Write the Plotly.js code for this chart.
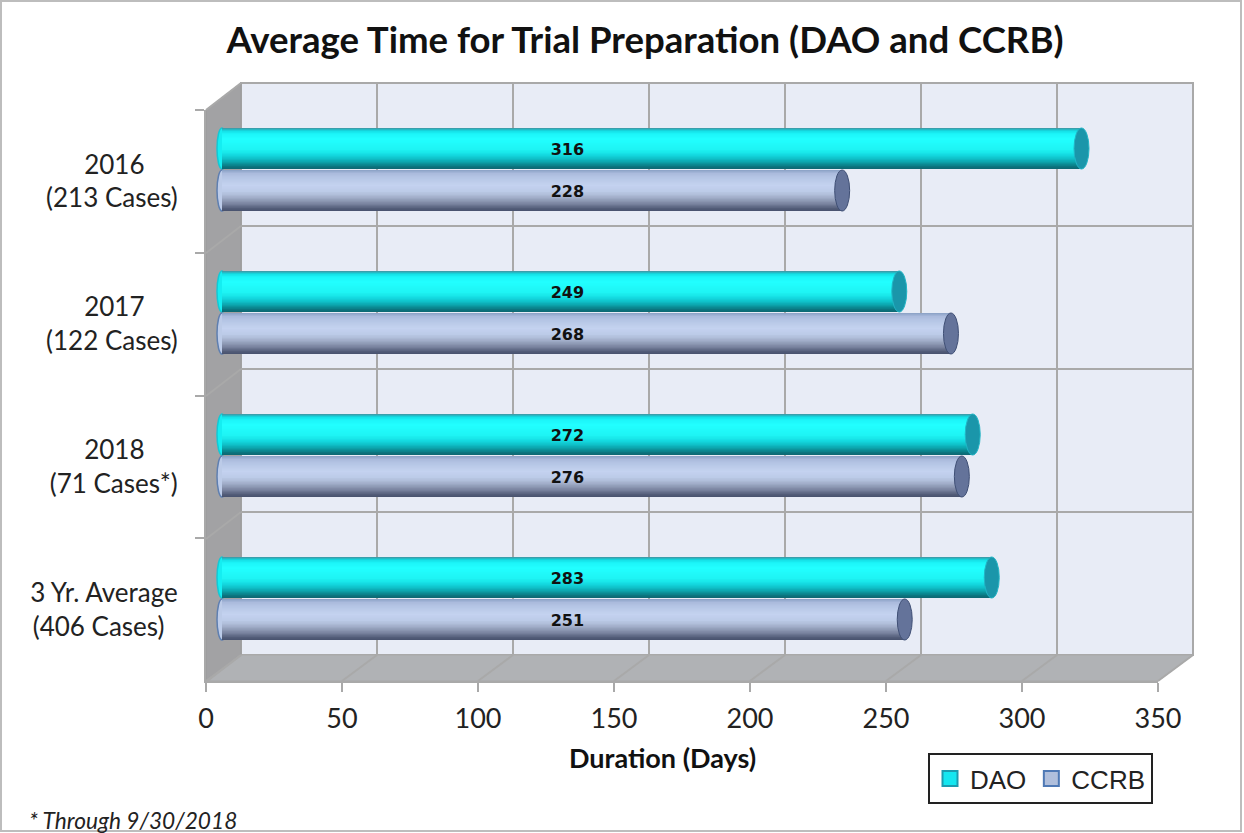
<!DOCTYPE html>
<html>
<head>
<meta charset="utf-8">
<script src="https://cdn.plot.ly/plotly-3.0.1.min.js"></script>
<style>html,body{margin:0;padding:0;background:#fff}#chart{width:1244px;height:833px}</style>
</head>
<body>
<div id="chart"></div>
<script>
// ---- data ----
const categories = [
  '2016' + '\u00a0'.repeat(5) + '<br>(213 Cases)',
  '2017' + '\u00a0'.repeat(5) + '<br>(122 Cases)',
  '2018' + '\u00a0'.repeat(5) + '<br>(71 Cases*)',
  '3 Yr. Average<br>(406 Cases)' + '\u00a0'.repeat(2)
];
const daoDays  = [316, 249, 276, 283];   // drawn bar lengths
const ccrbDays = [228, 268, 272, 251];
const daoLabels  = ['316', '249', '272', '283']; // printed labels
const ccrbLabels = ['228', '268', '276', '251'];
const xTicks = [0, 50, 100, 150, 200, 250, 300, 350];
const labelDay = 127;

// ---- styling ----
const W = 1244, H = 833;
const PX_PER_DAY = 952 / 350;
const BAND = 143, DEPTH_X = 35;
const FONT = 'Lato, "Open Sans", sans-serif';
const GRID = '#a9a9a9';
const daoStops = [[0,'#3a9fac'],[.04,'#12d8e0'],[.12,'#1cf4f8'],[.25,'#22ffff'],[.5,'#1ef4f4'],[.62,'#16dfe4'],[.72,'#10c4cc'],[.82,'#0ca0a8'],[.9,'#0a7f88'],[.96,'#0d6a75'],[1,'#0d6a75']];
const ccrbStops = [[0,'#8ea4c8'],[.05,'#a8b9db'],[.15,'#b4c4e4'],[.35,'#c4d2f0'],[.5,'#bccbe8'],[.62,'#a9b7d2'],[.72,'#919db8'],[.82,'#757f9b'],[.9,'#5a6480'],[.96,'#4a5470'],[1,'#4a5470']];
const SHADE_STEPS = 28;
const BAR_W = 41 / BAND, OFF = 21 / BAND, LABEL_SHIFT = 2.5 / BAND;
const idx = categories.map((_, i) => i);

const domX = (a, b) => [a / W, b / W];
const domY = (top, bottom) => [1 - bottom / H, 1 - top / H];
const px = x => x / W, py = y => 1 - y / H;

const hex2 = s => [1, 3, 5].map(k => parseInt(s.substr(k, 2), 16));
function shade(stops, t) {
  let k = 0;
  while (k < stops.length - 2 && t > stops[k + 1][0]) k++;
  const [t0, c0] = stops[k], [t1, c1] = stops[k + 1];
  const f = Math.min(1, (t - t0) / (t1 - t0));
  const a = hex2(c0), b = hex2(c1);
  return 'rgb(' + a.map((v, i) => Math.round(v + (b[i] - v) * f)).join(',') + ')';
}
function cylinder(values, stops, sign, name) {
  const top = sign * OFF - BAR_W / 2;
  const out = [];
  for (let s = 0; s < SHADE_STEPS; s++) {
    const t = s / SHADE_STEPS;
    out.push({
      type: 'bar', orientation: 'h', xaxis: 'x2', yaxis: 'y2',
      x: values, y: idx, name,
      offset: top + t * BAR_W, width: BAR_W * (1 - t),
      marker: {color: shade(stops, t), line: {width: 0}},
      showlegend: false, hoverinfo: 'skip'
    });
  }
  return out;
}
const labelTrace = (labels, sign) => ({
  type: 'scatter', mode: 'text', xaxis: 'x2', yaxis: 'y2',
  x: labels.map(() => labelDay), y: idx.map(i => i + sign * OFF + LABEL_SHIFT),
  text: labels, textposition: 'middle center',
  textfont: {family: '"DejaVu Sans", sans-serif', size: 16, color: '#111', weight: 700},
  showlegend: false, hoverinfo: 'skip'
});
const legendTrace = (name, color, line) => ({
  type: 'scatter', mode: 'markers', x: categories.map(() => null), y: categories, name,
  marker: {symbol: 'square', size: 15, color, line: {color: line, width: 2}}, hoverinfo: 'skip'
});

const traces = [
  legendTrace('DAO', '#14e6f0', '#1a9cb0'),
  legendTrace('CCRB', '#b0bfdc', '#4f79b5'),
  ...cylinder(daoDays, daoStops, -1, 'DAO'),
  ...cylinder(ccrbDays, ccrbStops, 1, 'CCRB'),
  labelTrace(daoLabels, -1),
  labelTrace(ccrbLabels, 1)
];

// ---- 3-D box decoration ----
const shapes = [];
const paperShape = o => Object.assign({xref: 'paper', yref: 'paper', layer: 'below'}, o);
const poly = pts => 'M' + pts.map(p => px(p[0]) + ',' + py(p[1])).join('L') + 'Z';
shapes.push(paperShape({type: 'rect', x0: px(1), x1: px(1241), y0: py(1), y1: py(831), fillcolor: '#fff', line: {color: '#bdbdbd', width: 2}}));
shapes.push(paperShape({type: 'rect', x0: px(241), x1: px(1193), y0: py(83), y1: py(655), fillcolor: '#e8ecf6', line: {color: GRID, width: 2}}));
shapes.push(paperShape({type: 'path', path: poly([[206,110],[241,83],[241,655],[206,681]]), fillcolor: '#a2a2a4', line: {color: '#9a9a9a', width: 1}}));
shapes.push(paperShape({type: 'path', path: poly([[206,681],[241,655],[1193,655],[1158,681]]), fillcolor: '#b0b2b5', line: {color: GRID, width: 1}}));
const seg = (x0, y0, x1, y1) => paperShape({type: 'line', x0: px(x0), y0: py(y0), x1: px(x1), y1: py(y1), line: {color: GRID, width: 2}});
xTicks.forEach(d => {
  const fx = 206 + d * PX_PER_DAY;
  shapes.push(seg(fx, 681, fx + DEPTH_X, 655));
  if (d > 0 && d < 350) shapes.push(seg(fx + DEPTH_X, 655, fx + DEPTH_X, 83));
});
idx.concat(categories.length).forEach(i => {
  const y = 110 + BAND * i;
  shapes.push(seg(206, y, 241, y - 27));
  if (i > 0 && i < categories.length) shapes.push(seg(241, y - 27, 1193, y - 27));
});

// ---- cylinder caps, placed in the bars' own data scale ----
function caps(values, sign, capFill, capLine, startFill, startLine) {
  const rx = 7.5 / PX_PER_DAY, rxs = 5 / PX_PER_DAY;
  values.forEach((v, i) => {
    const c = i + sign * OFF, y0 = c - BAR_W / 2, y1 = c + BAR_W / 2;
    shapes.push({type: 'circle', xref: 'x2', yref: 'y2', layer: 'above', x0: v - rx, x1: v + rx, y0, y1, fillcolor: capFill, line: {color: capLine, width: 1}});
    shapes.push({type: 'circle', xref: 'x2', yref: 'y2', layer: 'below', x0: -rxs, x1: rxs, y0, y1, fillcolor: startFill, line: {color: startLine, width: 1.5}});
  });
}
caps(daoDays, -1, '#1a96aa', '#22b5c5', '#14eef2', '#14c8d4');
caps(ccrbDays, 1, '#64739a', '#3f4f75', '#bccbe8', '#5f7fb0');

const X2_LEFT_PAD = 8; // room left of the zero line for the rounded bar ends
const layout = {
  width: W, height: H, autosize: false,
  margin: {l: 0, r: 0, t: 0, b: 0, pad: 0},
  paper_bgcolor: '#ffffff', plot_bgcolor: 'rgba(0,0,0,0)',
  barmode: 'overlay', font: {family: FONT, color: '#222'},
  title: {text: 'Average Time for Trial Preparation (DAO and CCRB)', font: {family: FONT, size: 36.6, weight: 700, color: '#111'},
          x: px(645), xanchor: 'center', xref: 'paper', y: py(40), yanchor: 'middle', yref: 'paper'},
  xaxis: {domain: domX(206, 1158), range: [0, 350], tickvals: xTicks, ticks: 'outside', ticklen: 9, tickwidth: 2, tickcolor: GRID,
          showgrid: false, zeroline: false, showline: true, linecolor: GRID, linewidth: 2, anchor: 'y', tickfont: {size: 27, color: '#222'}, ticklabelstandoff: 4},
  yaxis: {domain: domY(110, 681), type: 'category', categoryorder: 'array', categoryarray: categories, range: [3.5, -0.5],
          tickson: 'boundaries', ticks: 'outside', ticklen: 9, tickwidth: 2, tickcolor: GRID, dtick: 1, ticklabelstandoff: 21,
          showgrid: false, zeroline: false, showline: true, linecolor: GRID, linewidth: 2, anchor: 'x', tickfont: {size: 26, color: '#222'}},
  xaxis2: {domain: domX(222 - X2_LEFT_PAD, 1174), range: [-X2_LEFT_PAD / PX_PER_DAY, 350], visible: false, anchor: 'y2', fixedrange: true},
  yaxis2: {domain: domY(98, 670), range: [3.5, -0.5], visible: false, anchor: 'x2', fixedrange: true},
  legend: {orientation: 'h', x: px(928), y: py(753), xanchor: 'left', yanchor: 'top', bgcolor: '#fff', bordercolor: '#222', borderwidth: 2,
           font: {family: '"Liberation Sans", Arial, sans-serif', size: 26, color: '#222'}, itemwidth: 30, itemclick: false, itemdoubleclick: false},
  annotations: [
    {xref: 'paper', yref: 'paper', x: px(662), y: py(757), xanchor: 'center', yanchor: 'middle', showarrow: false,
     text: '<b>Duration (Days)</b>', font: {family: FONT, size: 27, color: '#111'}},
    {xref: 'paper', yref: 'paper', x: px(27), y: py(820), xanchor: 'left', yanchor: 'middle', showarrow: false,
     text: '<i>* Through 9/30/2018</i>', font: {family: FONT, size: 22.7, color: '#222'}}
  ],
  shapes
};
Plotly.newPlot('chart', traces, layout, {displayModeBar: false, staticPlot: true});
</script>
</body>
</html>
